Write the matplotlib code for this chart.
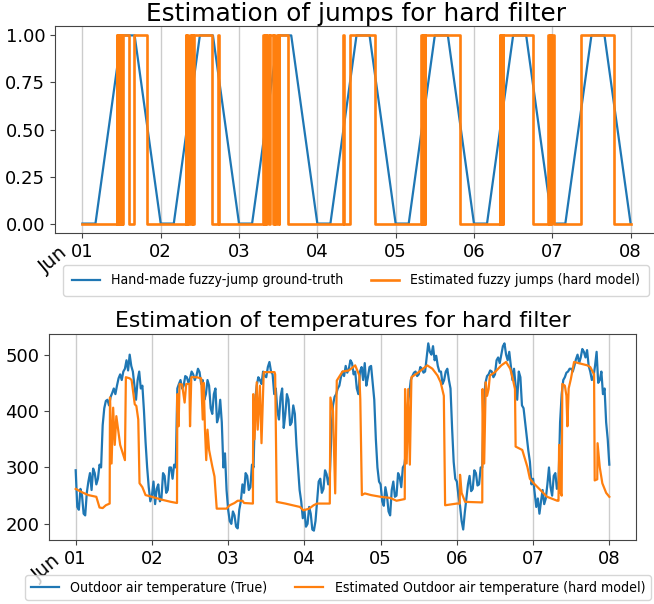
import numpy as np
import matplotlib
matplotlib.use("Agg")
import matplotlib.pyplot as plt
import matplotlib.dates as mdates
from matplotlib import font_manager as fm

# ---------------- data ----------------
start = np.datetime64("2018-06-01T00:00")

# top: hand-made ground truth (hours from start, value)
gt_hours = [0, 4, 12, 16, 24, 28, 36, 40, 48, 52, 60, 64, 72, 76, 84, 88,
            96, 100, 108, 112, 120, 124, 132, 136, 144, 148, 156, 160, 168]
gt_vals = [0, 0, 1, 1, 0, 0, 1, 1, 0, 0, 1, 1, 0, 0, 1, 1,
           0, 0, 1, 1, 0, 0, 1, 1, 0, 0, 1, 1, 0]

# top: estimated jumps (step function; switch days and the value after each)
est_jump_days = [0.0,
                 0.440, 0.445, 0.455, 0.460, 0.470, 0.475, 0.485, 0.490, 0.500, 0.505, 0.512, 0.590, 0.664, 0.820,
                 1.320, 1.325, 1.340, 1.350, 1.380, 1.395, 1.400, 1.410, 1.420, 1.660, 1.735, 1.740,
                 2.310, 2.320, 2.335, 2.350, 2.360, 2.380, 2.400, 2.430, 2.450, 2.465, 2.490, 2.505, 2.515, 2.630,
                 3.330, 3.340, 3.420, 3.740,
                 4.330, 4.335, 4.345, 4.355, 4.365, 4.370, 4.380, 4.820,
                 5.330, 5.335, 5.345, 5.350, 5.360, 5.365, 5.375, 5.750,
                 5.950, 5.955, 5.965, 5.985, 6.000, 6.025, 6.370, 6.790,
                 7.0]
est_jump_vals = [0,
                 1, 0, 1, 0, 1, 0, 1, 0, 1, 0, 1, 0, 1, 0,
                 1, 0, 1, 0, 1, 0, 1, 0, 1, 0, 1, 0,
                 1, 0, 1, 0, 1, 0, 1, 0, 1, 0, 1, 0, 1, 0,
                 1, 0, 1, 0,
                 1, 0, 1, 0, 1, 0, 1, 0,
                 1, 0, 1, 0, 1, 0, 1, 0,
                 1, 0, 1, 0, 1, 0, 1, 0,
                 0]

# bottom: true outdoor air temperature, every 30 minutes
temp_true = [
    295, 230, 225, 262, 250, 218, 215, 255, 275, 290, 260, 298, 290, 270, 280, 305,
    300, 375, 405, 418, 420, 410, 425, 432, 440, 430, 445, 458, 465, 455, 470, 475,
    490, 472, 500, 480, 470, 445, 420, 455, 470, 440, 445, 400, 345, 300, 265, 240,
    250, 275, 235, 262, 270, 240, 245, 290, 285, 255, 260, 300, 300, 280, 305, 300,
    440, 448, 455, 440, 445, 462, 460, 450, 458, 470, 465, 455, 462, 475, 469, 448,
    455, 420, 430, 455, 445, 405, 395, 430, 440, 380, 390, 420, 380, 300, 325, 260,
    225, 205, 200, 222, 215, 195, 192, 225, 240, 270, 255, 290, 285, 260, 265, 305,
    300, 420, 445, 460, 455, 448, 470, 462, 460, 478, 487, 470, 465, 430, 440, 400,
    385, 425, 440, 370, 395, 430, 420, 375, 380, 410, 395, 340, 300, 260, 240, 210,
    225, 195, 200, 230, 218, 190, 188, 205, 240, 275, 280, 255, 262, 295, 288, 270,
    285, 360, 410, 425, 430, 440, 445, 460, 470, 462, 480, 468, 475, 490, 485, 465,
    470, 440, 430, 470, 478, 455, 485, 445, 460, 478, 480, 450, 420, 350, 300, 275,
    270, 240, 232, 265, 250, 222, 215, 260, 275, 248, 250, 290, 283, 265, 300, 305,
    330, 410, 430, 455, 462, 468, 470, 462, 465, 478, 475, 468, 470, 495, 520, 505,
    500, 515, 490, 498, 480, 470, 470, 448, 455, 470, 475, 455, 440, 370, 310, 280,
    275, 250, 232, 205, 190, 220, 245, 270, 285, 258, 262, 295, 290, 268, 270, 300,
    300, 420, 450, 462, 465, 472, 470, 460, 465, 490, 495, 485, 500, 515, 520, 500,
    490, 505, 480, 455, 475, 445, 420, 470, 460, 410, 405, 380, 355, 330, 310, 270,
    280, 255, 230, 245, 218, 240, 260, 235, 245, 270, 300, 265, 250, 285, 290, 262,
    270, 380, 430, 455, 460, 468, 470, 475, 475, 470, 480, 492, 500, 485, 495, 510,
    505, 495, 508, 480, 470, 455, 460, 480, 505, 450, 455, 470, 430, 440, 380, 350,
    305]

# bottom: estimated temperature (hours from start, value)
est_hours = [0, 2, 4, 6.5, 7.5, 8.5, 9.5, 10.7, 10.8, 11.3, 11.8, 12.3, 12.8, 14, 15.5, 15.8, 17, 17.6, 18.6, 19.1, 19.7, 20.1, 21, 22, 24,
             27, 30, 31.9, 32.0, 32.4, 32.7, 33.5, 34.3, 34.8, 35.8, 36.0, 36.4, 38, 39.5, 40.0, 40.3, 40.7, 41.1, 41.5, 42.0, 43.0, 43.7, 44.4, 47.5,
             48.5, 50, 51, 52.5, 53, 55.8, 55.9, 56.3, 57, 57.3, 58, 58.5, 59.2, 62.6, 62.8, 63.3, 66, 70.6, 71.7,
             73.5, 74.9, 76, 80.0, 80.2, 81, 81.7, 82.2, 84, 86, 88, 89.3, 89.6, 90.1, 91, 93, 96,
             99, 101, 103.6, 103.7, 104.2, 104.7, 105.2, 105.7, 108, 110.7, 112.3, 113.9, 114.9, 115.9, 116.3, 120,
             120.9, 121.0, 121.5, 122.6, 128.0, 128.1, 128.6, 129.1, 129.5, 130.0, 130.4, 132, 134, 135.5, 136.8, 137.5, 138.3, 138.5, 140.6, 142.2, 143,
             144.2, 146.3, 148.4, 151.6, 152.0, 152.2, 152.6, 153.0, 153.2, 154.0, 154.5, 154.8, 155.2, 155.9, 156.9, 159, 161.1, 162, 163.2, 163.4, 164.2, 164.3, 165.0, 165.8, 167, 168]
est_vals = [262, 256, 251, 248, 229, 228, 233, 236, 424, 307, 406, 340, 391, 340, 313, 460, 458, 455, 412, 409, 385, 272, 265, 251, 248,
            243, 239, 237, 430, 373, 448, 447, 415, 448, 448, 373, 460, 460, 458, 385, 450, 367, 313, 367, 331, 302, 284, 227, 227,
            233, 237, 241, 241, 237, 236, 430, 350, 451, 367, 445, 343, 469, 469, 465, 239, 236, 230, 224,
            227, 233, 236, 236, 424, 400, 254, 454, 470, 472, 481, 463, 421, 251, 254, 251, 248,
            246, 241, 244, 439, 307, 439, 305, 460, 469, 481, 475, 463, 451, 427, 233, 236,
            236, 287, 255, 239, 238, 439, 307, 451, 427, 439, 463, 469, 481, 487, 475, 460, 439, 337, 331, 301, 280,
            272, 260, 248, 241, 241, 340, 256, 250, 448, 445, 427, 373, 440, 457, 487, 484, 481, 478, 465, 277, 279, 343, 300, 272, 255, 248]

gt_label = "Hand-made fuzzy-jump ground-truth"
est_jump_label = "Estimated fuzzy jumps (hard model)"
temp_label = "Outdoor air temperature (True)"
est_temp_label = "Estimated Outdoor air temperature (hard model)"


def to_dt(hours):
    return start + (np.asarray(hours, dtype=float) * 3600).astype("timedelta64[s]")


BLUE = "#1f77b4"
ORANGE = "#ff7f0e"
SPINE = "#444444"

has_cond = any(f.name == "DejaVu Sans" and "condensed" in str(f.stretch)
               for f in fm.fontManager.ttflist)
if has_cond:
    leg_prop = fm.FontProperties(family="DejaVu Sans", stretch="condensed", size=10.1)
else:
    leg_prop = fm.FontProperties(family="DejaVu Sans", size=9.4)

fig = plt.figure(figsize=(6.54, 6.04), dpi=100)
W, H = 654, 604
ax1 = fig.add_axes([55 / W, 1 - 233 / H, (658 - 55) / W, (233 - 26) / H])
ax2 = fig.add_axes([49 / W, 1 - 540 / H, (636 - 49) / W, (540 - 334) / H])

# top
ax1.plot(to_dt(gt_hours), gt_vals, color=BLUE, lw=1.6, label=gt_label, zorder=3)
ax1.step(to_dt(np.asarray(est_jump_days) * 24), est_jump_vals, where="post",
         color=ORANGE, lw=1.9, label=est_jump_label, zorder=3)
ax1.set_title("Estimation of jumps for hard filter", fontsize=17.8, pad=2.5)
ax1.set_yticks([0, 0.25, 0.5, 0.75, 1.0])
ax1.yaxis.set_major_formatter(matplotlib.ticker.FormatStrFormatter("%.2f"))

# bottom
temp_hours = np.arange(len(temp_true)) * 0.5
ax2.plot(to_dt(temp_hours), temp_true, color=BLUE, lw=1.6, label=temp_label, zorder=3)
ax2.plot(to_dt(est_hours), est_vals, color=ORANGE, lw=1.6, label=est_temp_label, zorder=3)
ax2.set_title("Estimation of temperatures for hard filter", fontsize=15.8, pad=5)
ax2.set_yticks([200, 300, 400, 500])

for ax in (ax1, ax2):
    ax.xaxis.set_major_locator(mdates.DayLocator())
    ax.xaxis.set_major_formatter(mdates.DateFormatter("%d"))
    ax.grid(axis="x", color="#cccccc", lw=1.0, zorder=0)
    ax.tick_params(labelsize=13, colors="black", length=3.5)
    ax.tick_params(color=SPINE)
    for s in ax.spines.values():
        s.set_color(SPINE)

jun = mdates.date2num(start)
ax1.annotate("Jun", xy=(jun, 0), xycoords=("data", "axes fraction"),
             xytext=(-8, -7), textcoords="offset points", rotation=40,
             ha="right", va="top", fontsize=14, zorder=1)
ax2.annotate("Jun", xy=(jun, 0), xycoords=("data", "axes fraction"),
             xytext=(-8, -8), textcoords="offset points", rotation=40,
             ha="right", va="top", fontsize=14, zorder=1)

leg1 = ax1.legend(loc="upper center", bbox_to_anchor=(356 / W, 1 - 265 / H),
                  bbox_transform=fig.transFigure, ncol=2, prop=leg_prop,
                  borderpad=0.6, borderaxespad=0)
leg2 = ax2.legend(loc="upper center", bbox_to_anchor=(338 / W, 1 - 575 / H),
                  bbox_transform=fig.transFigure, ncol=2, prop=leg_prop,
                  borderaxespad=0)

fig.savefig("out.png", dpi=100)
